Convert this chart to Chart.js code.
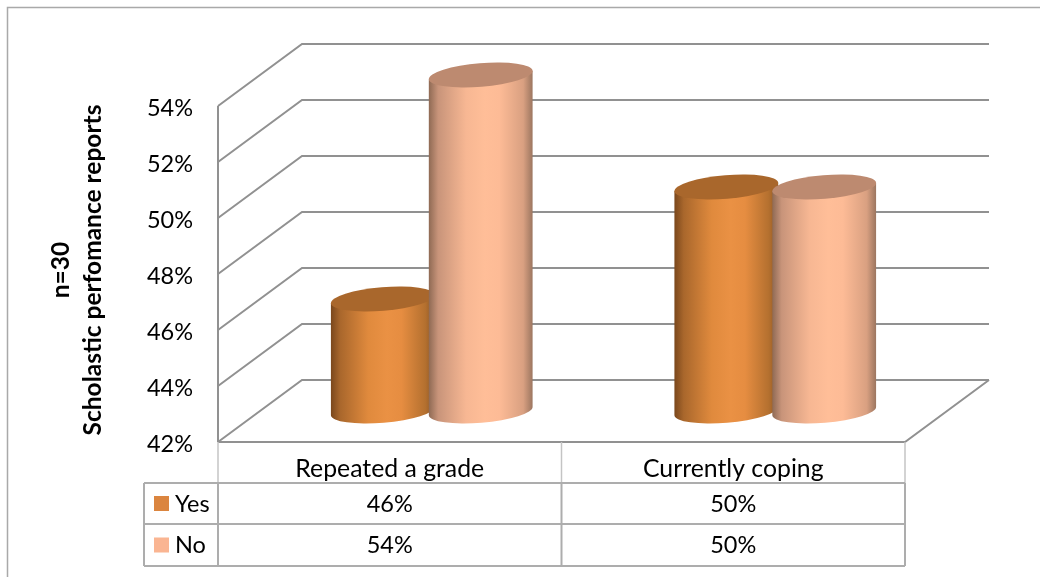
<!DOCTYPE html>
<html>
<head>
<meta charset="utf-8">
<title>Scholastic perfomance reports</title>
<script src="https://cdn.jsdelivr.net/npm/chart.js@4"></script>
<style>
  html, body { margin: 0; background: #fff; }
  canvas { display: block; }
</style>
</head>
<body>
<div style="width:1040px;height:577px"><canvas id="chart"></canvas></div>
<script>
const categories = ['Repeated a grade', 'Currently coping'];
const seriesNames = ['Yes', 'No'];
const yesValues = [46, 50];
const noValues = [54, 50];
const yTicks = [42, 44, 46, 48, 50, 52, 54];
const axisTitle = ['n=30', 'Scholastic perfomance reports'];

const FONT = 'Lato, Carlito, sans-serif';
const GRID = '#919191';
const TABLE = '#adadad';

// shift from the front of the box to its back wall, bars stand half way
const DEPTH_X = 84, DEPTH_Y = -62;

// left edge, peak and right edge of the cylinder shading, plus the lid colour
const shades = {
  Yes: { stops: ['#7a471c', '#a9672c', '#e08a3d', '#ea9144', '#e68d41', '#b4702f', '#8a5422'], lid: '#a9672c', swatch: '#db853f' },
  No: { stops: ['#8f6a54', '#c8947a', '#f7b793', '#ffbe98', '#fdbb96', '#d9a081', '#9c7660'], lid: '#bd8a70', swatch: '#fab592' }
};
const SHADE_POS = [0, 0.09, 0.36, 0.54, 0.68, 0.91, 1];
const TILT = -4.7 * Math.PI / 180;

class CylinderElement extends Chart.BarElement {
  draw(ctx) {
    const { x, y, base, width } = this.getProps(['x', 'y', 'base', 'width']);
    const shade = shades[this.seriesName];
    const cx = x + DEPTH_X / 2;
    const top = y + DEPTH_Y / 2;
    const bottom = base + DEPTH_Y / 2;
    const rx = width / 2 / Math.cos(TILT);
    const ry = 11.8;
    const dy = rx * Math.sin(TILT);
    const left = cx - width / 2;
    const right = cx + width / 2;

    const grad = ctx.createLinearGradient(left, 0, right, 0);
    SHADE_POS.forEach((p, i) => grad.addColorStop(p, shade.stops[i]));

    ctx.save();
    ctx.beginPath();
    ctx.moveTo(left, top - dy);
    ctx.lineTo(left, bottom - dy);
    ctx.ellipse(cx, bottom, rx, ry, TILT, Math.PI, 0, true);
    ctx.lineTo(right, top + dy);
    ctx.closePath();
    ctx.fillStyle = grad;
    ctx.fill();

    ctx.beginPath();
    ctx.ellipse(cx, top, rx, ry, TILT, 0, Math.PI * 2);
    ctx.fillStyle = shade.lid;
    ctx.fill();
    ctx.restore();
  }
}
CylinderElement.id = 'cylinder';
CylinderElement.defaults = Chart.BarElement.defaults;

class CylinderController extends Chart.BarController {
  draw() {
    const name = this.getDataset().label;
    this._cachedMeta.data.forEach(el => { el.seriesName = name; });
    super.draw();
  }
}
CylinderController.id = 'cylinder';
CylinderController.defaults = { ...Chart.BarController.defaults, dataElementType: 'cylinder' };
CylinderController.overrides = Chart.BarController.overrides;

Chart.register(CylinderElement, CylinderController);

function line(ctx, x1, y1, x2, y2) {
  ctx.beginPath();
  ctx.moveTo(x1, y1);
  ctx.lineTo(x2, y2);
  ctx.stroke();
}

// walls and floor of the box, then the bars left to right so the right one sits on top
const boxPlugin = {
  id: 'box',
  beforeDatasetsDraw(chart) {
    const { ctx, chartArea: { left, right }, scales: { y } } = chart;
    ctx.save();
    ctx.strokeStyle = GRID;
    ctx.lineWidth = 2;
    const y0 = y.getPixelForValue(yTicks[0]);
    const yN = y.getPixelForValue(yTicks[yTicks.length - 1]);
    line(ctx, left, y0, left, yN);
    yTicks.forEach(t => {
      const py = y.getPixelForValue(t);
      ctx.beginPath();
      ctx.moveTo(left, py);
      ctx.lineTo(left + DEPTH_X, py + DEPTH_Y);
      ctx.lineTo(right + DEPTH_X, py + DEPTH_Y);
      ctx.stroke();
    });
    ctx.beginPath();
    ctx.moveTo(left, y0);
    ctx.lineTo(right, y0);
    ctx.lineTo(right + DEPTH_X, y0 + DEPTH_Y);
    ctx.stroke();
    ctx.restore();

    chart.getSortedVisibleDatasetMetas().forEach(meta => meta.controller.draw());
    return false;
  }
};

// data table under the axis, the rotated axis title and the outer frame
const tablePlugin = {
  id: 'dataTable',
  afterDraw(chart) {
    const { ctx, chartArea: { left, right, bottom }, scales: { x } } = chart;
    const legendLeft = 144;
    const rows = [483, 524, 566];
    const mid = (left + right) / 2;
    ctx.save();

    ctx.strokeStyle = '#a9a9a9';
    ctx.lineWidth = 1.5;
    ctx.beginPath();
    ctx.moveTo(7.5, 577);
    ctx.lineTo(7.5, 7.5);
    ctx.lineTo(1040, 7.5);
    ctx.stroke();

    ctx.strokeStyle = '#c4c4c4';
    line(ctx, left, bottom, left, rows[0]);
    line(ctx, mid, bottom, mid, rows[0]);
    line(ctx, right, bottom, right, rows[0]);

    ctx.strokeStyle = TABLE;
    ctx.lineWidth = 2;
    rows.forEach(r => line(ctx, legendLeft, r, right, r));
    line(ctx, legendLeft, rows[0], legendLeft, rows[2]);
    line(ctx, left, rows[0], left, rows[2]);
    line(ctx, mid, rows[0], mid, rows[2]);
    line(ctx, right, rows[0], right, rows[2]);

    ctx.font = '23.5px ' + FONT;
    ctx.textBaseline = 'middle';
    [yesValues, noValues].forEach((values, r) => {
      const cy = (rows[r] + rows[r + 1]) / 2 + 0.5;
      ctx.fillStyle = shades[seriesNames[r]].swatch;
      ctx.fillRect(154, cy - 8, 15, 15);
      ctx.fillStyle = '#000';
      ctx.textAlign = 'left';
      ctx.fillText(seriesNames[r], 175, cy);
      ctx.textAlign = 'center';
      values.forEach((v, i) => ctx.fillText(v + '%', x.getPixelForValue(i), cy));
    });

    ctx.font = 'bold 24.5px ' + FONT;
    ctx.textAlign = 'center';
    axisTitle.forEach((text, i) => {
      ctx.save();
      ctx.translate(61 + i * 32, 270);
      ctx.rotate(-Math.PI / 2);
      ctx.fillText(text, 0, 0);
      ctx.restore();
    });
    ctx.restore();
  }
};

new Chart(document.getElementById('chart'), {
  type: 'cylinder',
  data: {
    labels: categories,
    datasets: [
      { label: seriesNames[0], data: yesValues, base: yTicks[0], backgroundColor: shades.Yes.swatch, clip: false },
      { label: seriesNames[1], data: noValues, base: yTicks[0], backgroundColor: shades.No.swatch, clip: false }
    ]
  },
  options: {
    responsive: true,
    maintainAspectRatio: false,
    animation: false,
    categoryPercentage: 0.57,
    barPercentage: 1.06,
    layout: { padding: { top: 106, right: 135 } },
    plugins: { legend: { display: false }, tooltip: { enabled: false } },
    scales: {
      x: {
        grid: { display: false },
        border: { display: false },
        afterFit(scale) { scale.height = 135; },
        ticks: { color: '#000', font: { family: FONT, size: 24.8 }, padding: 4, maxRotation: 0 }
      },
      y: {
        min: yTicks[0],
        max: yTicks[yTicks.length - 1],
        grid: { display: false, drawTicks: false },
        border: { display: false },
        afterFit(scale) { scale.width = 218; },
        ticks: {
          stepSize: 2,
          color: '#000',
          font: { family: FONT, size: 23.5 },
          padding: 25,
          labelOffset: 2,
          callback: v => v + '%'
        }
      }
    }
  },
  plugins: [boxPlugin, tablePlugin]
});
</script>
</body>
</html>
